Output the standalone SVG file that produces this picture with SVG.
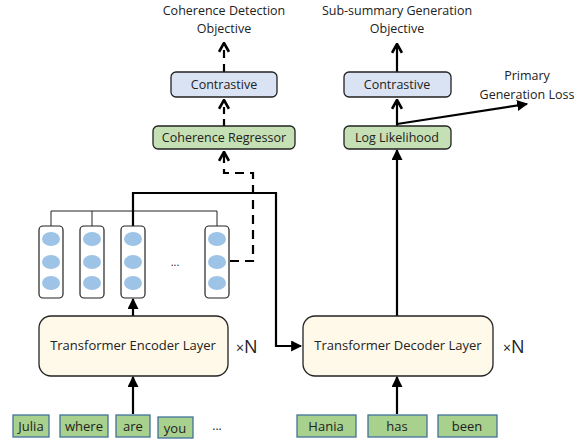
<svg xmlns="http://www.w3.org/2000/svg" width="584" height="439" viewBox="0 0 584 439">
<style>
text{font-family:"Open Sans","Liberation Sans",sans-serif;fill:#222;}
.lbl{font-size:12.5px;text-anchor:middle;}
.box{stroke:#222;stroke-width:1.3;}
.blue{fill:#dae3f3;}
.green{fill:#c5e0b4;}
.layer{fill:#fff9ea;stroke:#222;stroke-width:1.3;}
.vec{fill:#fff;stroke:#222;stroke-width:1.2;}
.dot{fill:#9dc3e6;}
.word{fill:#a9d18e;stroke:#41719c;stroke-width:1.3;}
.thin{fill:none;stroke:#222;stroke-width:1;}
.thick{fill:none;stroke:#000;stroke-width:2.2;}
.dash{fill:none;stroke:#000;stroke-width:2.2;}
.xn{font-size:14px;}
.nn{font-size:18px;}
</style>
<defs>
<marker id="tri" viewBox="0 0 10 10" refX="9" refY="5" markerWidth="5" markerHeight="5" orient="auto" markerUnits="strokeWidth">
<path d="M0,0 L10,5 L0,10 z" fill="#000"/>
</marker>
<marker id="chev" viewBox="0 0 10 10" refX="9" refY="5" markerWidth="5" markerHeight="5.5" orient="auto" markerUnits="strokeWidth">
<path d="M1,0.5 L9,5 L1,9.5" fill="none" stroke="#000" stroke-width="2.4"/>
</marker>
</defs>

<g id="connectors">
<path class="thin" d="M51,226 V211 H217 V226 M92,211 V226"/>
<path class="thick" d="M133,226 V193 H276 V346 H301" marker-end="url(#tri)"/>
<path class="dash" d="M230,261 H253 V173 H224 V152" marker-end="url(#chev)" style="stroke-dasharray:9,6"/>
<path class="dash" d="M224,126 V100" marker-end="url(#chev)" style="stroke-dasharray:7,5"/>
<path class="dash" d="M224,72 V43" marker-end="url(#chev)" style="stroke-dasharray:8,6"/>
<path class="thick" d="M397,316 V150" marker-end="url(#tri)"/>
<path class="thick" d="M397,126 V100" marker-end="url(#chev)"/>
<path class="thick" d="M397,72 V44" marker-end="url(#chev)"/>
<path class="thick" d="M397,124 L527,104" marker-end="url(#tri)"/>
<path class="thick" d="M133,316 V299" marker-end="url(#tri)"/>
<path class="thick" d="M133,414 V377" marker-end="url(#tri)"/>
<path class="thick" d="M397,414 V377" marker-end="url(#tri)"/>
</g>

<g id="title-left">
<text class="lbl" x="224" y="15">Coherence Detection</text>
<text class="lbl" x="224" y="33">Objective</text>
</g>
<g id="title-right">
<text class="lbl" x="397" y="15">Sub-summary Generation</text>
<text class="lbl" x="397" y="33">Objective</text>
</g>
<g id="primary-loss">
<text class="lbl" x="527" y="80">Primary</text>
<text class="lbl" x="527" y="99">Generation Loss</text>
</g>

<g id="contrastive-left">
<rect class="box blue" x="171" y="72" width="106" height="25" rx="5"/>
<text class="lbl" x="224" y="89">Contrastive</text>
</g>
<g id="coherence-regressor">
<rect class="box green" x="153" y="126" width="142" height="23" rx="5"/>
<text class="lbl" x="224" y="142">Coherence Regressor</text>
</g>
<g id="contrastive-right">
<rect class="box blue" x="344" y="72" width="107" height="25" rx="5"/>
<text class="lbl" x="397" y="89">Contrastive</text>
</g>
<g id="log-likelihood">
<rect class="box green" x="344" y="126" width="107" height="23" rx="5"/>
<text class="lbl" x="397" y="142">Log Likelihood</text>
</g>

<g id="vec1">
<rect class="vec" x="39" y="226" width="24" height="72" rx="4"/>
<ellipse class="dot" cx="51" cy="239" rx="9" ry="7"/>
<ellipse class="dot" cx="51" cy="262" rx="9" ry="7"/>
<ellipse class="dot" cx="51" cy="283" rx="9" ry="7"/>
</g>
<g id="vec2">
<rect class="vec" x="80" y="226" width="24" height="72" rx="4"/>
<ellipse class="dot" cx="92" cy="239" rx="9" ry="7"/>
<ellipse class="dot" cx="92" cy="262" rx="9" ry="7"/>
<ellipse class="dot" cx="92" cy="283" rx="9" ry="7"/>
</g>
<g id="vec3">
<rect class="vec" x="121" y="226" width="24" height="72" rx="4"/>
<ellipse class="dot" cx="133" cy="239" rx="9" ry="7"/>
<ellipse class="dot" cx="133" cy="262" rx="9" ry="7"/>
<ellipse class="dot" cx="133" cy="283" rx="9" ry="7"/>
</g>
<g id="vec-dots"><text x="175" y="266" style="font-size:11px;text-anchor:middle">...</text></g>
<g id="vec4">
<rect class="vec" x="205" y="226" width="24" height="72" rx="4"/>
<ellipse class="dot" cx="217" cy="239" rx="9" ry="7"/>
<ellipse class="dot" cx="217" cy="262" rx="9" ry="7"/>
<ellipse class="dot" cx="217" cy="283" rx="9" ry="7"/>
</g>

<g id="encoder">
<rect class="layer" x="39" y="316" width="189" height="60" rx="12"/>
<text class="lbl" x="133" y="350" style="font-size:13px">Transformer Encoder Layer</text>
</g>
<g id="encoder-n"><text x="236" y="353"><tspan class="xn">×</tspan><tspan class="nn">N</tspan></text></g>
<g id="decoder">
<rect class="layer" x="303" y="316" width="190" height="60" rx="12"/>
<text class="lbl" x="398" y="350" style="font-size:13px">Transformer Decoder Layer</text>
</g>
<g id="decoder-n"><text x="503" y="353"><tspan class="xn">×</tspan><tspan class="nn">N</tspan></text></g>

<g id="w-julia"><rect class="word" x="13" y="415" width="36" height="22"/><text class="lbl" x="31" y="431" style="font-size:13px">Julia</text></g>
<g id="w-where"><rect class="word" x="60" y="415" width="48" height="22"/><text class="lbl" x="84" y="431" style="font-size:13px">where</text></g>
<g id="w-are"><rect class="word" x="116" y="415" width="34" height="22"/><text class="lbl" x="133" y="431" style="font-size:13px">are</text></g>
<g id="w-you"><rect class="word" x="158" y="417" width="35" height="21"/><text class="lbl" x="175" y="433" style="font-size:13px">you</text></g>
<g id="w-dots"><text x="217" y="430" style="font-size:12px;text-anchor:middle">...</text></g>
<g id="w-hania"><rect class="word" x="297" y="415" width="59" height="22"/><text class="lbl" x="326" y="431" style="font-size:13px">Hania</text></g>
<g id="w-has"><rect class="word" x="368" y="415" width="59" height="22"/><text class="lbl" x="397" y="431" style="font-size:13px">has</text></g>
<g id="w-been"><rect class="word" x="438" y="415" width="59" height="22"/><text class="lbl" x="467" y="431" style="font-size:13px">been</text></g>
</svg>
